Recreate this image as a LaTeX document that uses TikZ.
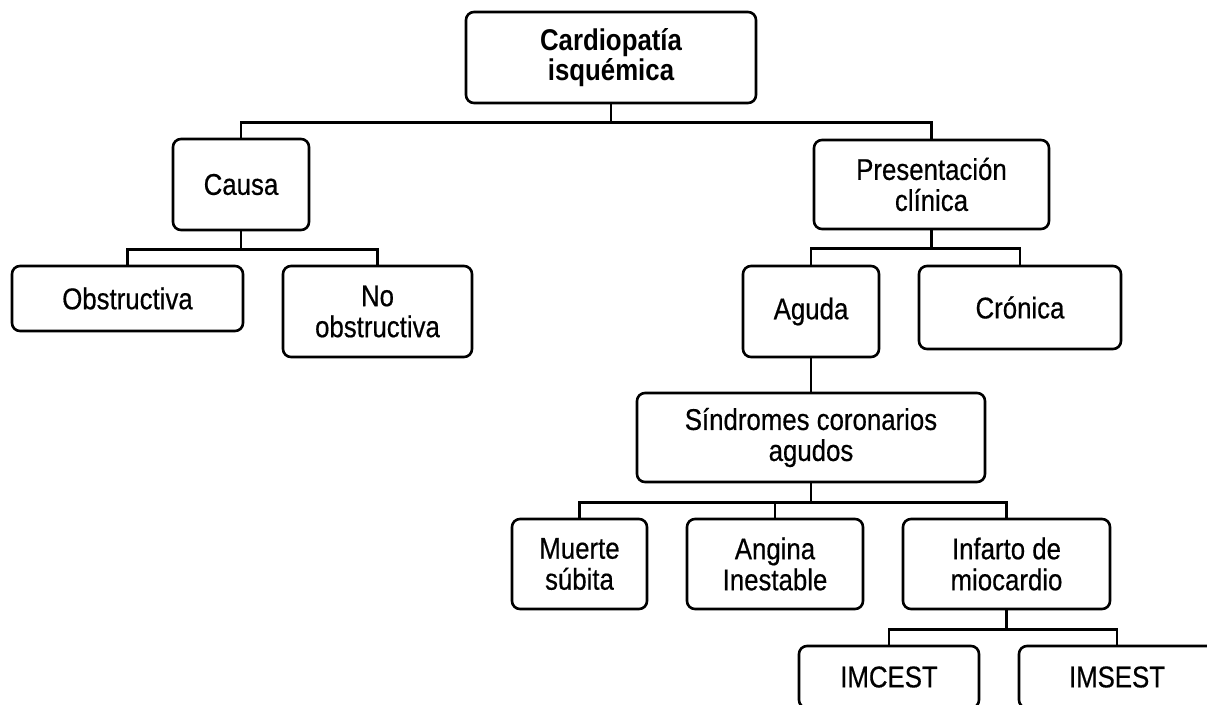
\documentclass[tikz,border=0pt]{standalone}
\usepackage{fontspec}
\setmainfont[FakeStretch=0.86, UprightFeatures={FakeBold=0.5}]{Liberation Sans}
\usetikzlibrary{positioning,calc}

\begin{document}
\begin{tikzpicture}[
    x=1pt, y=-1pt,
    box/.style={draw, rounded corners=8pt, line width=2.6pt, align=center,
        inner sep=0pt, font=\fontsize{30}{31}\selectfont},
    link/.style={line width=2.6pt}
]
\useasboundingbox (0,0) rectangle (1207,704);
\clip (0,0) rectangle (1207,704);

% Root
\node[box, minimum width=290pt, minimum height=91pt, font=\fontsize{30}{30}\selectfont\bfseries]
    (cardio) at (611, 57.5) {Cardiopatía\\isquémica};

% Level 1
\node[box, minimum width=136pt, minimum height=91pt] (causa) at (241, 184.5) {Causa};
\node[box, minimum width=235pt, minimum height=89pt] (pres) at (931.5, 184.5) {Presentación\\clínica};

% Causes
\node[box, minimum width=231pt, minimum height=65pt] (obs) at (127.5, 298.5) {Obstructiva};
\node[box, minimum width=189pt, minimum height=91pt] (noobs) at (377.5, 311.5) {No\\obstructiva};

% Clinical presentation
\node[box, minimum width=136pt, minimum height=91pt] (aguda) at (811, 311.5) {Aguda};
\node[box, minimum width=202pt, minimum height=83pt] (cronica) at (1020, 307.5) {Crónica};
\node[box, minimum width=348pt, minimum height=89pt] (sca) at (811, 437.5) {Síndromes coronarios\\agudos};

% Acute coronary syndromes
\node[box, minimum width=135pt, minimum height=90pt] (muerte) at (579.5, 564) {Muerte\\súbita};
\node[box, minimum width=176pt, minimum height=90pt] (angina) at (775, 564) {Angina\\Inestable};
\node[box, minimum width=207pt, minimum height=90pt] (infarto) at (1006.5, 564) {Infarto de\\miocardio};

% Infarction types
\node[box, minimum width=180pt, minimum height=62pt] (imcest) at (889, 677) {IMCEST};
\node[box, minimum width=196pt, minimum height=62pt] (imsest) at (1117, 677) {IMSEST};

% Connectors
\draw[link] (cardio.south) -- ++(0,18) coordinate (b1);
\draw[link] (b1) -| (causa.north);
\draw[link] (b1) -| (pres.north);

\draw[link] (causa.south) -- ++(0,18) coordinate (b2);
\draw[link] (b2) -| (obs.north);
\draw[link] (b2) -| (noobs.north);

\draw[link] (pres.south) -- ++(0,18) coordinate (b3);
\draw[link] (b3) -| (aguda.north);
\draw[link] (b3) -| (cronica.north);

\draw[link] (aguda.south) -- (sca.north);

\draw[link] (sca.south) -- ++(0,19) coordinate (b4);
\draw[link] (b4) -| (muerte.north);
\draw[link] (b4) -| (angina.north);
\draw[link] (b4) -| (infarto.north);

\draw[link] (infarto.south) -- ++(0,19) coordinate (b5);
\draw[link] (b5) -| (imcest.north);
\draw[link] (b5) -| (imsest.north);

\end{tikzpicture}
\end{document}
